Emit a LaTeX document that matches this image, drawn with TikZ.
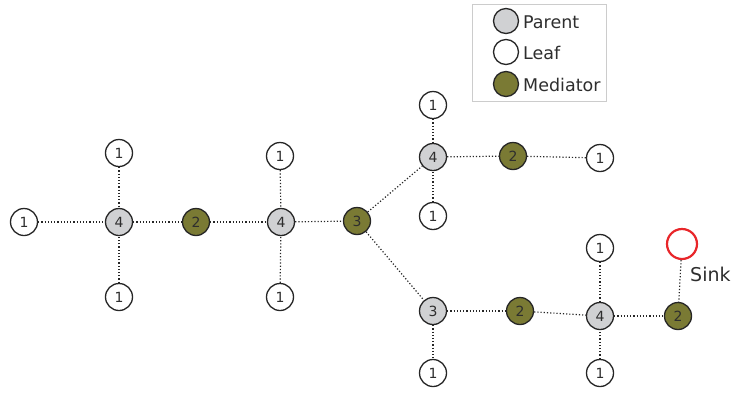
\documentclass[tikz,border=0pt]{standalone}
\usepackage{fontspec}
\setmainfont{DejaVu Sans}
\definecolor{medc}{HTML}{7A7A34}
\definecolor{parc}{HTML}{D0D1D3}
\definecolor{txt}{HTML}{2E2E2E}
\definecolor{sinkc}{HTML}{E8262A}
\begin{document}
\begin{tikzpicture}[x=1pt,y=-1pt,
  nd/.style={circle,draw=black!85,line width=1.3pt,minimum size=27pt,inner sep=0pt,font=\fontsize{14}{14}\selectfont,text=txt},
  leaf/.style={nd,fill=white},
  par/.style={nd,fill=parc},
  med/.style={nd,fill=medc},
  lnk/.style={dash pattern=on 1.2pt off 2pt,line width=1.2pt,black!85},
  lg/.style={circle,draw=black!85,line width=1.3pt,minimum size=25pt,inner sep=0pt},
  lgt/.style={anchor=west,font=\fontsize{17.5}{17.5}\selectfont,text=txt,inner sep=0pt}]
\useasboundingbox (0,0) rectangle (734,392);
% legend
\node[draw=black!20,line width=0.8pt,minimum width=134pt,minimum height=97pt,inner sep=0pt] (legbox) at (539,52.5) {};
\node[lg,fill=parc] (lgp) at (506,21) {};
\node[lg,fill=white] (lgl) at (506,52) {};
\node[lg,fill=medc] (lgm) at (506,84) {};
\node[lgt] (tp) at (523,22) {Parent};
\node[lgt] (tl) at (523,53) {Leaf};
\node[lgt] (tm) at (523,85) {Mediator};
% nodes
\node[leaf] (a1) at (24,222) {1};
\node[par] (a4) at (119,222) {4};
\node[leaf] (a1t) at (119,153) {1};
\node[leaf] (a1b) at (119,297) {1};
\node[med] (m2a) at (196,222) {2};
\node[par] (b4) at (281,222) {4};
\node[leaf] (b1t) at (280,156) {1};
\node[leaf] (b1b) at (280,297) {1};
\node[med] (m3) at (357,221) {3};
\node[par] (c4) at (433,157) {4};
\node[leaf] (c1t) at (433,105) {1};
\node[leaf] (c1b) at (433,216) {1};
\node[med] (m2b) at (513,156) {2};
\node[leaf] (c1r) at (600,158) {1};
\node[par] (d3) at (433,311) {3};
\node[leaf] (d1b) at (433,373) {1};
\node[med] (m2c) at (520,311) {2};
\node[par] (e4) at (600,316) {4};
\node[leaf] (e1t) at (600,248) {1};
\node[leaf] (e1b) at (600,373) {1};
\node[med] (m2d) at (678,316) {2};
\node[circle,draw=sinkc,line width=2.2pt,minimum size=30pt,inner sep=0pt] (sink) at (682,244) {};
\node[anchor=west,font=\fontsize{19}{19}\selectfont,text=txt,inner sep=0pt] (sinkl) at (690,274) {Sink};
% links
\draw[lnk] (a1) -- (a4);
\draw[lnk] (a1t) -- (a4);
\draw[lnk] (a1b) -- (a4);
\draw[lnk] (a4) -- (m2a);
\draw[lnk] (m2a) -- (b4);
\draw[lnk] (b1t) -- (b4);
\draw[lnk] (b1b) -- (b4);
\draw[lnk] (b4) -- (m3);
\draw[lnk] (m3) -- (c4);
\draw[lnk] (m3) -- (d3);
\draw[lnk] (c1t) -- (c4);
\draw[lnk] (c1b) -- (c4);
\draw[lnk] (c4) -- (m2b);
\draw[lnk] (m2b) -- (c1r);
\draw[lnk] (d3) -- (d1b);
\draw[lnk] (d3) -- (m2c);
\draw[lnk] (m2c) -- (e4);
\draw[lnk] (e1t) -- (e4);
\draw[lnk] (e1b) -- (e4);
\draw[lnk] (e4) -- (m2d);
\draw[lnk] (sink) -- (m2d);
\end{tikzpicture}
\end{document}
